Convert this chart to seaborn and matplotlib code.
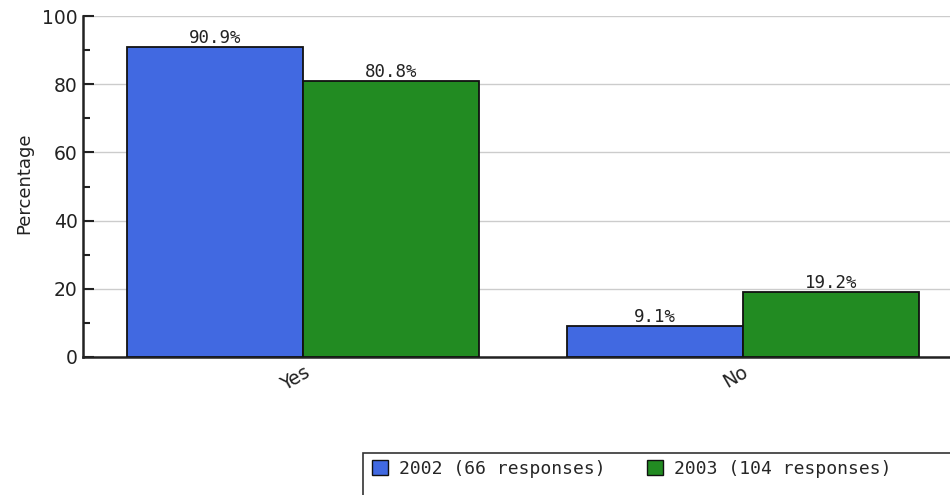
import matplotlib
matplotlib.use("Agg")
import matplotlib.pyplot as plt
import matplotlib.transforms as mtransforms
import seaborn as sns
import pandas as pd
from matplotlib.patches import Patch, Rectangle
from matplotlib.ticker import MultipleLocator

# Survey answers and share of responses per year
categories = ["Yes", "No"]
years = ["2002 (66 responses)", "2003 (104 responses)"]
pct_2002 = [90.9, 9.1]
pct_2003 = [80.8, 19.2]
colors = ["#4169E1", "#228B22"]

df = pd.DataFrame({
    "answer": categories * 2,
    "year": [years[0]] * len(categories) + [years[1]] * len(categories),
    "pct": pct_2002 + pct_2003,
})

sns.set_style("white")
plt.rcParams["font.family"] = ["DejaVu Sans"]

W, H = 950, 495
fig = plt.figure(figsize=(W / 100, H / 100), dpi=100)
ax = fig.add_axes([83 / W, 138 / H, (W - 83) / W, 341 / H])

sns.barplot(data=df, x="answer", y="pct", hue="year", order=categories,
            hue_order=years, palette=colors, width=0.8, edgecolor="#111111",
            linewidth=1.3, saturation=1, legend=False, ax=ax, zorder=3)

ax.set_xlim(-0.5, -0.5 + (W - 83) / 440)
ax.set_ylim(0, 100)
ax.yaxis.set_major_locator(MultipleLocator(20))
ax.yaxis.set_minor_locator(MultipleLocator(10))
ax.grid(axis="y", which="major", color="#cccccc", linewidth=1, zorder=0)
ax.set_axisbelow(True)

for side in ["top", "right"]:
    ax.spines[side].set_visible(False)
for side in ["left", "bottom"]:
    ax.spines[side].set_color("#222222")
    ax.spines[side].set_linewidth(1.8)

ax.tick_params(axis="y", which="major", direction="in", length=8, width=1.5,
               color="#222222", left=True, labelsize=13.5, pad=4,
               labelcolor="#222222")
ax.tick_params(axis="y", which="minor", direction="in", length=5, width=1.5,
               color="#222222", left=True)
ax.tick_params(axis="x", which="both", length=0, labelsize=13.5, pad=4,
               labelcolor="#222222")
shift = mtransforms.ScaledTranslation(-8 / 100, 0, fig.dpi_scale_trans)
for lab in ax.get_xticklabels():
    lab.set_rotation(30)
    lab.set_ha("center")
    lab.set_transform(lab.get_transform() + shift)

ax.set_xlabel("")
ax.set_ylabel("Percentage", fontsize=13, color="#222222")
ax.yaxis.set_label_coords((33 - 83) / (W - 83), 0.51)

for cont in ax.containers:
    ax.bar_label(cont, fmt="%.1f%%", padding=0, fontsize=12.5,
                 family="DejaVu Sans Mono", color="#222222")

# Legend box running off the lower right corner of the canvas
fig.patches.append(Rectangle((363 / W, -0.1), 1.0, (H - 453) / H + 0.1,
                             transform=fig.transFigure, facecolor="white",
                             edgecolor="#333333", linewidth=1.2))
handles = [Patch(facecolor=c, edgecolor="#111111", linewidth=1) for c in colors]
fig.legend(handles, years, loc="upper left",
           bbox_to_anchor=(372 / W, 1 - 460 / H), ncol=2, frameon=False,
           prop={"family": "DejaVu Sans Mono", "size": 13},
           handlelength=0.9, handleheight=0.9, handletextpad=0.6,
           columnspacing=2.3, borderpad=0, borderaxespad=0)

fig.savefig("out.png", dpi=100)
